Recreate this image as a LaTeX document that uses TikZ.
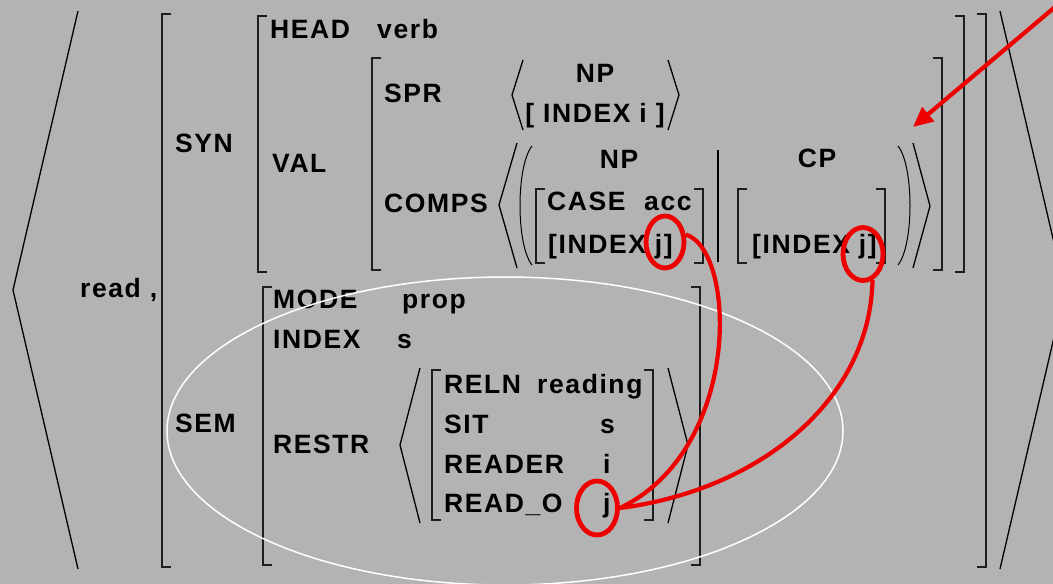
\documentclass[tikz,border=0pt]{standalone}
\usepackage{fontspec}
\setmainfont{Liberation Sans}[LetterSpace=6]
\usetikzlibrary{arrows.meta,shapes.geometric}
\definecolor{bg}{RGB}{179,179,179}
\definecolor{brkcol}{RGB}{30,30,30}
\definecolor{ringred}{RGB}{238,0,0}
\newcommand\avmLB[3]{\draw[brk] (#1+9,#2) -- (#1,#2) -- (#1,#3) -- (#1+9,#3);}
\newcommand\avmRB[3]{\draw[brk] (#1-9,#2) -- (#1,#2) -- (#1,#3) -- (#1-9,#3);}
\tikzset{
  t/.style={anchor=base west,inner sep=0pt,font=\fontsize{26.5}{30}\selectfont\bfseries},
  tc/.style={anchor=base,inner sep=0pt,font=\fontsize{26.5}{30}\selectfont\bfseries},
  brk/.style={draw=brkcol,line width=1.8pt},
  ang/.style={draw=black,line width=1.3pt},
  ring/.style={draw=ringred,line width=4.8pt,ellipse,inner sep=0pt,minimum width=38pt,minimum height=52pt},
  link/.style={draw=ringred,line width=4.2pt},
  halo/.style={draw=white,line width=1.5pt}
}
\begin{document}
\begin{tikzpicture}[x=1pt,y=-1pt]
\fill[bg] (0,0) rectangle (1053,584);
\useasboundingbox (0,0) rectangle (1053,584);
\clip (0,0) rectangle (1053,584);
% outer angle brackets
\draw[ang] (78,11) -- (13,290) -- (78,569);
\draw[ang] (1000,11) -- (1065,290) -- (1000,569);
% brackets
\avmLB{162}{14}{567} \avmRB{986}{14}{567}
\avmLB{258}{16}{272} \avmRB{964}{16}{272}
\avmLB{372}{58}{270} \avmRB{942}{58}{270}
\avmLB{536}{189}{263} \avmRB{703}{189}{263}
\avmLB{738}{189}{263} \avmRB{885}{189}{263}
\avmLB{263}{287}{565} \avmRB{700}{287}{565}
\avmLB{432}{370}{520} \avmRB{653}{370}{520}
% SPR angles
\draw[ang] (523,60) -- (512,95) -- (523,130);
\draw[ang] (668,60) -- (679,95) -- (668,130);
% COMPS angles
\draw[ang] (517,143) -- (499,205) -- (517,268);
\draw[ang] (913,143) -- (930,206) -- (913,268);
% parens
\draw[ang,line width=1pt] (532,146) .. controls (516,166) and (516,245) .. (532,265);
\draw[ang,line width=1pt] (898,146) .. controls (914,166) and (914,245) .. (898,265);
% bar
\draw[ang] (718,150) -- (718,262);
% RESTR angles
\draw[ang] (420,368) -- (400,445) -- (420,523);
\draw[ang] (668,368) -- (688,445) -- (668,523);
% texts
\node[t] (read) at (80,297) {read ,};
\node[t] (syn) at (175,152) {SYN};
\node[t] (sem) at (175,432) {SEM};
\node[t] (head) at (270,38) {HEAD};
\node[t] (verb) at (377,38) {verb};
\node[t] (val) at (272,172) {VAL};
\node[t] (spr) at (384,102) {SPR};
\node[t] (comps) at (384,212) {COMPS};
\node[tc] (np1) at (595,82) {NP};
\node[tc] (idxi) at (595,122) {[ INDEX i ]};
\node[tc] (np2) at (619,168) {NP};
\node[t] (case) at (547,210) {CASE};
\node[t] (acc) at (644,210) {acc};
\node[t] (idxj1) at (548,253) {[INDEX j]};
\node[tc] (cp) at (817,167) {CP};
\node[t] (idxj2) at (752,253) {[INDEX j]};
\node[t] (mode) at (273,308) {MODE};
\node[t] (prop) at (402,308) {prop};
\node[t] (index) at (273,348) {INDEX};
\node[t] (s1) at (397,348) {s};
\node[t] (restr) at (273,453) {RESTR};
\node[t] (reln) at (444,393) {RELN};
\node[t] (reading) at (537,393) {reading};
\node[t] (sit) at (444,433) {SIT};
\node[t] (s2) at (600,433) {s};
\node[t] (reader) at (444,473) {READER};
\node[t] (ii) at (603,473) {i};
\node[t] (reado) at (444,512) {READ\_O};
\node[t] (jj) at (603,512) {j};
% white ellipse
\draw[halo] (505,431) ellipse [x radius=338, y radius=154];
% red rings
\node[ring] (r1) at (665,242) {};
\node[ring,minimum width=40pt,minimum height=53pt] (r2) at (863,254) {};
\node[ring,minimum width=41pt,minimum height=54pt] (r3) at (597,508) {};
% red links
\draw[link] (r1.20) .. controls (737,250) and (742,450) .. (r3.east);
\draw[link] (r2.290) .. controls (870,400) and (760,490) .. (r3.east);
% red arrow
\coordinate (astart) at (1068,-4);
\coordinate (aend) at (913,127);
\draw[link,-{Triangle[length=20pt,width=18pt]}] (astart) -- (aend);
\end{tikzpicture}
\end{document}
